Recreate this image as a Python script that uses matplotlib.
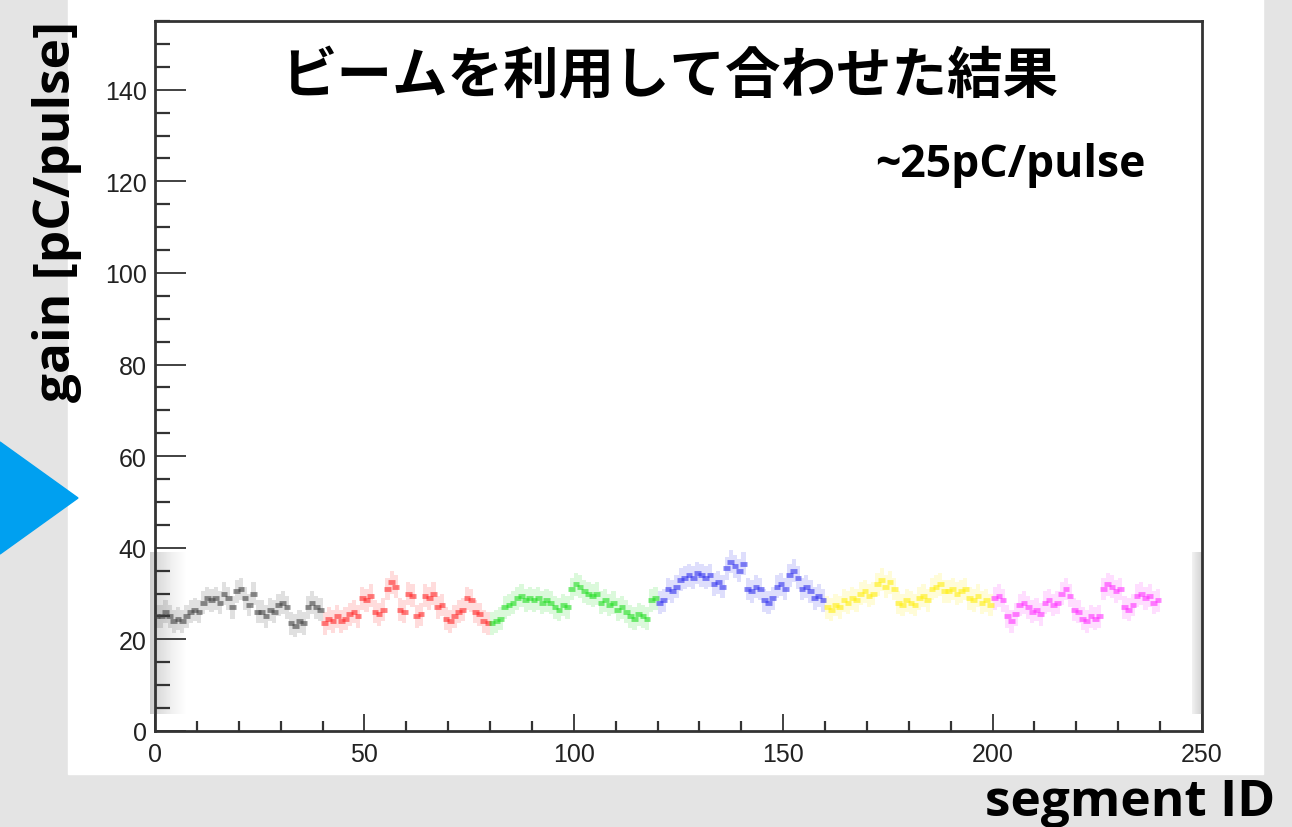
import numpy as np
import matplotlib.pyplot as plt
from matplotlib.patches import Rectangle, Polygon
from matplotlib.ticker import MultipleLocator

# gain per segment, 40 segments per colour group
black = [25, 25, 26, 25, 24, 24.5, 24, 25, 26, 26.5, 26, 28, 29, 28.5, 29, 28,
         30, 29, 27, 30.5, 31, 29, 27.5, 30, 26, 26, 25, 26.5, 26, 27.5, 28, 27,
         23.5, 23, 24, 23.5, 27, 28, 27, 26.5]
red = [23.5, 24.5, 24, 25, 24, 24.5, 25.5, 26, 25, 29, 28.5, 29.5, 26, 25.5, 26.5,
       31, 32.5, 31.5, 26.5, 26, 30, 29.5, 25, 25.5, 29.5, 29, 30, 27, 27.5,
       24.5, 24, 25, 26, 26.5, 29, 28.5, 26, 25.5, 24, 23.5]
green = [23.5, 24, 24.5, 27, 27.5, 28, 29, 29.5, 28.5, 29, 28.5, 29, 28, 28.5, 28,
         27, 26.5, 27.5, 27, 31, 32, 31.5, 30.5, 30, 29.5, 30, 28, 28.5, 27.5, 28,
         26.5, 27, 26, 25, 24.5, 25.5, 25, 24.5, 28.5, 29]
blue = [28, 28.5, 31, 30.5, 31.5, 33, 33.5, 34, 33.5, 34.5, 34, 33.5, 34, 32, 32.5,
        31.5, 35.5, 37, 36, 35, 36.5, 31, 30.5, 31.5, 31, 28.5, 28, 29, 31.5, 32,
        31, 34, 35, 33.5, 31, 31.5, 30.5, 29, 29.5, 28.5]
yellow = [27, 26.5, 27.5, 27, 28.5, 28, 29, 28.5, 30, 30.5, 29.5, 30, 32, 33, 31.5,
          32.5, 31, 28, 27.5, 28.5, 28, 27.5, 29, 29.5, 28.5, 31, 31.5, 32, 30.5,
          30.5, 31, 30, 30.5, 31, 29, 28.5, 29.5, 28, 28.5, 27.5]
magenta = [29, 29.5, 28.5, 25, 24, 25.5, 27.5, 28, 27, 26, 26.5, 25.5, 28, 28.5,
           27.5, 28, 30, 31, 29.5, 26.5, 26, 24.5, 24, 25, 24.5, 25, 31, 32, 31.5,
           30.5, 31, 27, 26.5, 27.5, 29.5, 30, 29, 29.5, 28, 28.5]

groups = [black, red, green, blue, yellow, magenta]
colors = ['#444444', '#ff2a2a', '#22dd22', '#3333ee', '#ffee11', '#ff33ff']

W, H = 1292, 828
fig = plt.figure(figsize=(W / 100, H / 100), dpi=100)
fig.patch.set_facecolor('#e4e4e4')

# white slide panel and blue arrow
fig.add_artist(Rectangle((68 / W, 1 - 775 / H), (1263 - 68) / W, 775 / H,
                         transform=fig.transFigure, color='white', zorder=-2))
fig.add_artist(Polygon([(0, 1 - 443 / H), (78 / W, 1 - 499 / H), (0, 1 - 555 / H)],
                       closed=True, transform=fig.transFigure, color='#00a0f0', zorder=-1))

ax = fig.add_axes([155 / W, 1 - 732 / H, (1202 - 155) / W, (732 - 22) / H])
ax.set_facecolor('none')

# smeared grey bits from the scanned plot
ax.imshow(np.linspace(0.3, 0.0, 30).reshape(1, -1), cmap='Greys', vmin=0, vmax=1,
          extent=(-1.2, 7.5, 3.7, 39), aspect='auto', clip_on=False, zorder=1)
ax.imshow(np.linspace(0.12, 0.3, 10).reshape(1, -1), cmap='Greys', vmin=0, vmax=1,
          extent=(247.6, 250, 3.7, 39), aspect='auto', clip_on=False, zorder=1)

seg = 0
for vals, c in zip(groups, colors):
    x = np.arange(seg, seg + len(vals))
    v = np.array(vals)
    ax.bar(x, 5, bottom=v - 2.5, width=1, align='edge', color=c, alpha=0.16,
           linewidth=0, zorder=2)
    ax.hlines(v, x - 0.3, x + 1.3, color=c, linewidth=3.5, alpha=0.6, zorder=3)
    seg += len(vals)

ax.set_xlim(0, 250)
ax.set_ylim(0, 155)
ax.xaxis.set_major_locator(MultipleLocator(50))
ax.xaxis.set_minor_locator(MultipleLocator(10))
ax.yaxis.set_major_locator(MultipleLocator(20))
ax.yaxis.set_minor_locator(MultipleLocator(5))
ax.tick_params(axis='y', which='major', direction='in', length=22, width=1.3,
               color='#333333', pad=6)
ax.tick_params(axis='y', which='minor', direction='in', length=11, width=1.6,
               color='#333333')
ax.tick_params(axis='x', which='major', direction='in', length=12, width=1.3,
               color='#333333', pad=8)
ax.tick_params(axis='x', which='minor', direction='in', length=7, width=1.6,
               color='#333333')
for lab in ax.get_xticklabels() + ax.get_yticklabels():
    lab.set_fontfamily('Liberation Sans')
    lab.set_fontsize(18)
    lab.set_color('#222222')
for s in ax.spines.values():
    s.set_color('#333333')
    s.set_linewidth(2)

fig.text(670 / W, 1 - 77 / H, 'ビームを利用して合わせた結果', ha='center', va='center',
         fontsize=40, fontweight='bold', family=['Noto Sans CJK JP', 'DejaVu Sans'])
fig.text(1010 / W, 1 - 165 / H, '~25pC/pulse', ha='center', va='center',
         fontsize=32, fontweight='bold', family='Open Sans')
fig.text(57 / W, 1 - 212 / H, 'gain [pC/pulse]', ha='center', va='center',
         rotation=90, fontsize=37, fontweight='bold', family='Open Sans')
fig.text(1130 / W, 1 - 803 / H, 'segment ID', ha='center', va='center',
         fontsize=37, fontweight='bold', family='Open Sans')

fig.savefig('out.png', dpi=100, facecolor=fig.get_facecolor())
